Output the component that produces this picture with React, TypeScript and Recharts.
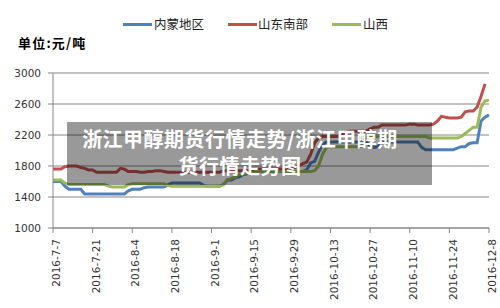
import React from 'react';
import { LineChart, Line, XAxis, YAxis, CartesianGrid } from 'recharts';

const dates = [
  '2016-7-7','2016-7-8','2016-7-11','2016-7-12','2016-7-13','2016-7-14','2016-7-15','2016-7-18','2016-7-19','2016-7-20',
  '2016-7-21','2016-7-22','2016-7-25','2016-7-26','2016-7-27','2016-7-28','2016-7-29','2016-8-1','2016-8-2','2016-8-3',
  '2016-8-4','2016-8-5','2016-8-8','2016-8-9','2016-8-10','2016-8-11','2016-8-12','2016-8-15','2016-8-16','2016-8-17',
  '2016-8-18','2016-8-19','2016-8-22','2016-8-23','2016-8-24','2016-8-25','2016-8-26','2016-8-29','2016-8-30','2016-8-31',
  '2016-9-1','2016-9-2','2016-9-5','2016-9-6','2016-9-7','2016-9-8','2016-9-9','2016-9-12','2016-9-13','2016-9-14',
  '2016-9-15','2016-9-16','2016-9-19','2016-9-20','2016-9-21','2016-9-22','2016-9-23','2016-9-26','2016-9-27','2016-9-28',
  '2016-9-29','2016-9-30','2016-10-3','2016-10-4','2016-10-5','2016-10-6','2016-10-7','2016-10-10','2016-10-11','2016-10-12',
  '2016-10-13','2016-10-14','2016-10-17','2016-10-18','2016-10-19','2016-10-20','2016-10-21','2016-10-24','2016-10-25','2016-10-26',
  '2016-10-27','2016-10-28','2016-10-31','2016-11-1','2016-11-2','2016-11-3','2016-11-4','2016-11-7','2016-11-8','2016-11-9',
  '2016-11-10','2016-11-11','2016-11-14','2016-11-15','2016-11-16','2016-11-17','2016-11-18','2016-11-21','2016-11-22','2016-11-23',
  '2016-11-24','2016-11-25','2016-11-28','2016-11-29','2016-11-30','2016-12-1','2016-12-2','2016-12-5','2016-12-6','2016-12-7',
  '2016-12-8',
];

// 内蒙地区
const neimeng = [
  1600,1600,1600,1540,1500,1500,1500,1500,1440,1440,
  1440,1440,1440,1440,1440,1440,1440,1440,1440,1480,
  1500,1500,1500,1520,1530,1530,1530,1530,1530,1560,
  1580,1580,1580,1580,1580,1580,1580,1580,1550,1540,
  1540,1540,1540,1560,1620,1620,1650,1660,1690,1700,
  1720,1730,1730,1730,1730,1730,1730,1730,1730,1730,
  1730,1730,1730,1730,1750,1840,1860,1980,2080,2110,
  2110,2110,2110,2110,2110,2110,2110,2110,2110,2110,
  2060,2040,2050,2100,2110,2110,2110,2110,2110,2110,
  2110,2110,2110,2040,2010,2010,2010,2010,2010,2010,
  2010,2010,2030,2050,2050,2090,2100,2100,2380,2430,
  2460,
];

// 山东南部
const shandong = [
  1760,1760,1760,1790,1800,1800,1800,1780,1770,1750,
  1750,1720,1720,1720,1720,1720,1720,1770,1760,1730,
  1730,1730,1720,1720,1730,1730,1740,1740,1730,1720,
  1720,1720,1720,1720,1720,1720,1720,1720,1720,1720,
  1720,1720,1720,1740,1740,1740,1740,1740,1740,1740,
  1740,1740,1760,1760,1760,1760,1760,1760,1760,1760,
  1760,1780,1800,1830,1850,1950,2100,2160,2180,2180,
  2180,2180,2180,2200,2240,2250,2250,2250,2250,2250,
  2280,2300,2300,2330,2330,2330,2330,2330,2330,2330,
  2340,2340,2330,2330,2330,2330,2340,2380,2440,2430,
  2420,2420,2420,2430,2500,2510,2510,2560,2700,2860,
  null,
];

// 山西
const shanxi = [
  1620,1620,1620,1580,1560,1560,1560,1560,1560,1560,
  1560,1560,1560,1560,1540,1530,1530,1530,1530,1560,
  1570,1570,1570,1570,1570,1570,1570,1570,1570,1550,
  1540,1540,1540,1540,1540,1540,1540,1540,1540,1540,
  1540,1540,1540,1560,1620,1640,1660,1690,1700,1710,
  1710,1730,1730,1730,1730,1730,1730,1730,1730,1730,
  1730,1730,1730,1730,1730,1730,1740,1800,1950,2040,
  2050,2050,2050,2050,2050,2050,2050,2050,2060,2170,
  2180,2180,2180,2180,2180,2180,2180,2180,2180,2180,
  2180,2180,2180,2180,2180,2160,2160,2160,2160,2160,
  2160,2160,2160,2180,2220,2260,2300,2300,2560,2640,
  2650,
];

const yTicks = [1000, 1400, 1800, 2200, 2600, 3000];
const seriesNames = ['内蒙地区', '山东南部', '山西'];
const seriesColors = ['#4F81BD', '#C0504D', '#9BBB59'];
const unitLabel = '单位:元/吨';
const overlayLines = ['浙江甲醇期货行情走势/浙江甲醇期', '货行情走势图'];

const data = dates.map((d, i) => ({
  date: d,
  neimeng: neimeng[i],
  shandong: shandong[i],
  shanxi: shanxi[i],
}));

const AXIS_COLOR = '#868686';
const LABEL_FONT = "'DejaVu Sans', sans-serif";
const CJK_FONT = "'Noto Sans CJK SC', sans-serif";

const XTick = (props: any) => {
  const { x, y, payload } = props;
  return (
    <g transform={`translate(${x + 3.5},${y})`}>
      <text
        transform="rotate(-90)"
        textAnchor="end"
        dy="0.35em"
        fontSize={10.5}
        fontFamily={LABEL_FONT}
        fill="#333"
      >
        {payload.value}
      </text>
    </g>
  );
};

const legendPos = [
  { line: 123, text: 154 },
  { line: 228, text: 258 },
  { line: 332, text: 363 },
];

export default function App() {
  return (
    <div style={{ position: 'absolute', left: 0, top: 0, width: 500, height: 308, background: '#fff', overflow: 'hidden' }}>
      <LineChart
        width={500}
        height={308}
        data={data}
        margin={{ top: 73, right: 11, bottom: 20, left: 0 }}
      >
        <CartesianGrid vertical={false} stroke={AXIS_COLOR} strokeWidth={1} />
        <XAxis
          dataKey="date"
          interval={9}
          height={60}
          tick={<XTick />}
          tickSize={5}
          tickMargin={6}
          axisLine={{ stroke: AXIS_COLOR }}
          tickLine={{ stroke: AXIS_COLOR }}
        />
        <YAxis
          width={53}
          domain={[1000, 3000]}
          ticks={yTicks}
          tickSize={5}
          tickMargin={7}
          axisLine={{ stroke: AXIS_COLOR }}
          tickLine={{ stroke: AXIS_COLOR }}
          tick={{ fontSize: 10.5, fontFamily: LABEL_FONT, fill: '#333' }}
          allowDataOverflow
        />
        <Line type="linear" dataKey="neimeng" name={seriesNames[0]} stroke={seriesColors[0]} strokeWidth={3} dot={false} isAnimationActive={false} />
        <Line type="linear" dataKey="shandong" name={seriesNames[1]} stroke={seriesColors[1]} strokeWidth={3} dot={false} isAnimationActive={false} />
        <Line type="linear" dataKey="shanxi" name={seriesNames[2]} stroke={seriesColors[2]} strokeWidth={3} dot={false} isAnimationActive={false} />
      </LineChart>

      {seriesNames.map((name, i) => (
        <React.Fragment key={name}>
          <div style={{ position: 'absolute', left: legendPos[i].line, top: 23, width: 29, height: 3, background: seriesColors[i] }} />
          <div style={{ position: 'absolute', left: legendPos[i].text, top: 16, fontSize: 12.5, lineHeight: '16px', fontFamily: CJK_FONT, color: '#222', whiteSpace: 'nowrap' }}>
            {name}
          </div>
        </React.Fragment>
      ))}

      <div style={{ position: 'absolute', left: 18, top: 34.5, fontSize: 13, lineHeight: '16px', fontWeight: 'bold', fontFamily: CJK_FONT, color: '#000', letterSpacing: 1.2, whiteSpace: 'nowrap' }}>
        {unitLabel}
      </div>

      <div style={{ position: 'absolute', left: 67, top: 122, width: 365, height: 63, background: 'rgba(0,0,0,0.4)' }}>
        <div style={{ position: 'absolute', left: 0, top: 2.5, width: 346, textAlign: 'center', color: '#fff', fontSize: 20, lineHeight: '27px', fontWeight: 'bold', fontFamily: CJK_FONT, letterSpacing: 0.5, whiteSpace: 'nowrap' }}>
          {overlayLines.map((l) => (
            <div key={l}>{l}</div>
          ))}
        </div>
      </div>
    </div>
  );
}
